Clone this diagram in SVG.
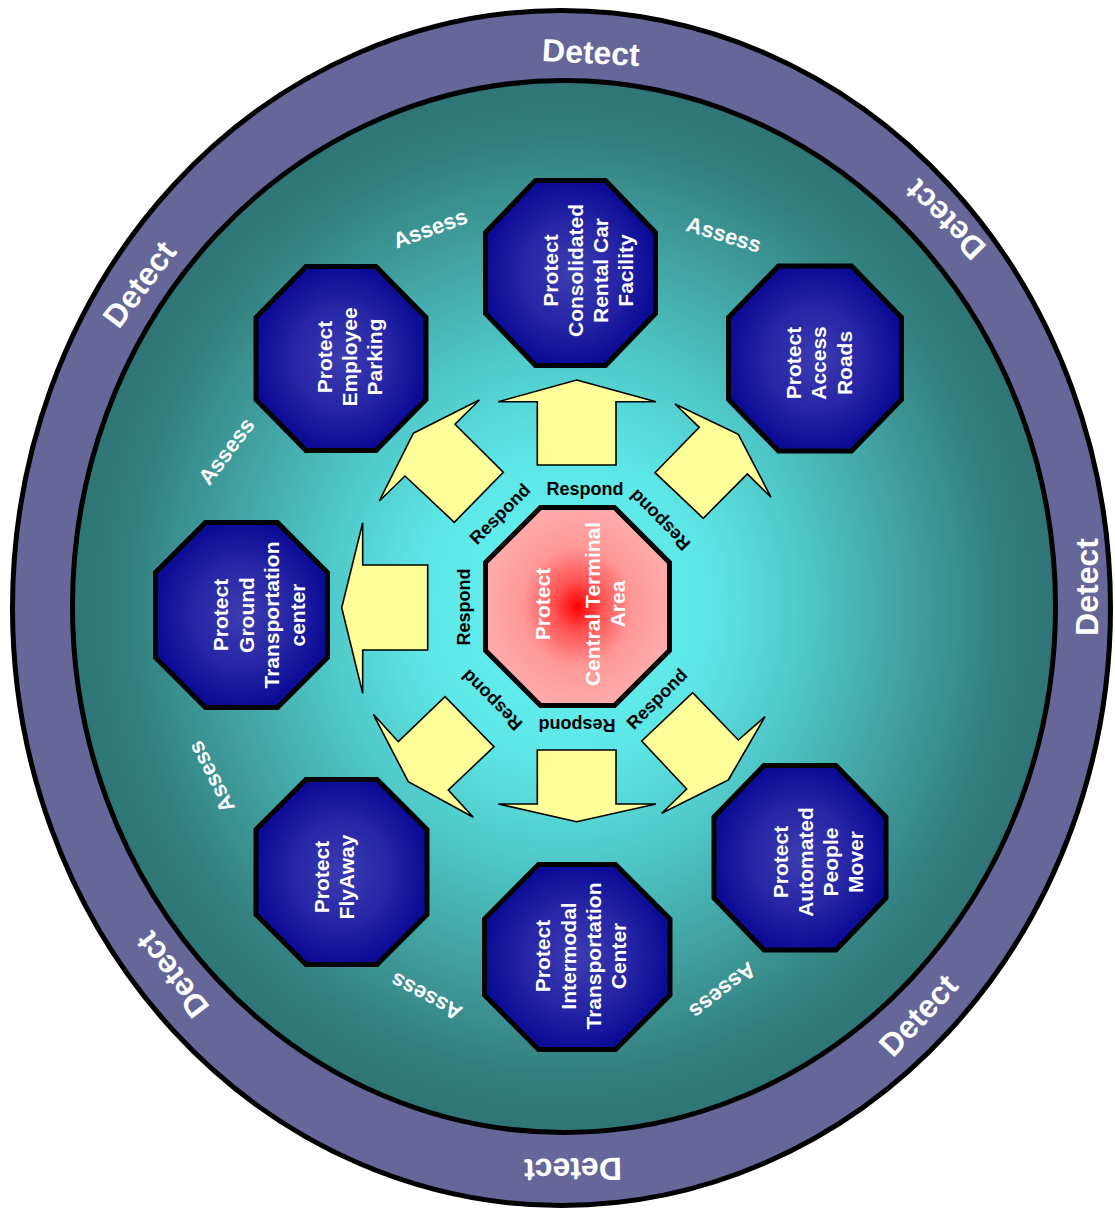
<svg xmlns="http://www.w3.org/2000/svg" width="1115" height="1214" viewBox="0 0 1115 1214">
<defs>
<radialGradient id="gInner" cx="50%" cy="50%" r="50%">
<stop offset="0" stop-color="#66f4f4"/>
<stop offset="0.3" stop-color="#5de6e6"/>
<stop offset="0.5" stop-color="#4fc6c6"/>
<stop offset="0.75" stop-color="#3e9898"/>
<stop offset="0.9" stop-color="#327d7d"/>
<stop offset="1" stop-color="#2f7575"/>
</radialGradient>
<radialGradient id="gBlue" cx="50%" cy="50%" r="50%">
<stop offset="0" stop-color="#3c3cb0"/>
<stop offset="0.55" stop-color="#2626a6"/>
<stop offset="1" stop-color="#0b0b96"/>
</radialGradient>
<radialGradient id="gRed" cx="50%" cy="50%" r="50%">
<stop offset="0" stop-color="#ff0000"/>
<stop offset="0.25" stop-color="#ff5050"/>
<stop offset="0.6" stop-color="#ff9898"/>
<stop offset="1" stop-color="#ffaaaa"/>
</radialGradient>
</defs>
<style>
.oct{fill:url(#gBlue);stroke:#000;stroke-width:5;stroke-linejoin:miter}
.ctr{fill:url(#gRed);stroke:#000;stroke-width:5}
.arr{fill:#ffff99;stroke:#000;stroke-width:1.6;stroke-linejoin:miter}
.nt{font-family:"Liberation Sans",Arial,sans-serif;font-weight:bold;font-size:21px;fill:#fff;text-anchor:middle}
.rs{font-family:"Liberation Sans",Arial,sans-serif;font-weight:bold;font-size:18px;fill:#000;text-anchor:middle}
.as{font-family:"Liberation Sans",Arial,sans-serif;font-weight:bold;font-size:22px;fill:#fff;text-anchor:middle}
.dt{font-family:"Liberation Sans",Arial,sans-serif;font-weight:bold;font-size:32px;fill:#fff;text-anchor:middle}
</style>
<rect width="1115" height="1214" fill="#fff"/>
<g id="rings">
<ellipse cx="561.5" cy="608" rx="549" ry="597.5" fill="#666699" stroke="#000" stroke-width="5"/>
<ellipse cx="564" cy="606.5" rx="491.5" ry="526" fill="url(#gInner)" stroke="#000" stroke-width="5"/>
</g>
<g id="detect-labels">
<text class="dt" transform="translate(591,52) rotate(3)" y="11.5">Detect</text>
<text class="dt" transform="translate(945,220) rotate(-135)" y="11.5">Detect</text>
<text class="dt" transform="translate(139,284) rotate(-53)" y="11.5">Detect</text>
<text class="dt" transform="translate(1086,587) rotate(-90)" y="11.5">Detect</text>
<text class="dt" transform="translate(172,975) rotate(-127)" y="11.5">Detect</text>
<text class="dt" transform="translate(573,1170) rotate(179)" y="11.5">Detect</text>
<text class="dt" transform="translate(918,1015) rotate(-47)" y="11.5">Detect</text>
</g>
<g id="assess-labels">
<text class="as" transform="translate(430,228) rotate(-20)" y="8">Assess</text>
<text class="as" transform="translate(724,234) rotate(17)" y="8">Assess</text>
<text class="as" transform="translate(226,451) rotate(-53)" y="8">Assess</text>
<text class="as" transform="translate(211,777) rotate(-117)" y="8">Assess</text>
<text class="as" transform="translate(426,997) rotate(208)" y="8">Assess</text>
<text class="as" transform="translate(723,991) rotate(142)" y="8">Assess</text>
</g>
<g id="connectors">
<polygon class="arr" points="576.7,380 656,401.7 616,401.7 616,465 537.3,465 537.3,401.7 498.3,401.7"/>
<polygon class="arr" points="576.7,821.7 498.3,804 537.3,804 537.3,750 616,750 616,804 656,804"/>
<polygon class="arr" points="341.7,607.7 362.7,522.7 362.7,565 427.7,565 427.7,650 362.7,650 362.7,693.3"/>
<polygon class="arr" points="413.3,433.3 479.3,400 455,424.3 503.3,472.3 454.3,522.3 405,476 379.3,501"/>
<polygon class="arr" points="738.3,434.3 771,497.3 747.3,474 703.3,518.3 655,472.7 699.3,427.3 675,404"/>
<polygon class="arr" points="408.3,781.7 373.3,714.3 398.3,741.7 445,696.7 494,746.7 448.3,790 473.3,817.3"/>
<polygon class="arr" points="728.3,780 765,716.7 738.3,740 692.7,692.7 641.7,741 686.7,789 661.7,813.3"/>
</g>
<g id="respond-labels">
<text class="rs" transform="translate(585,489)" y="6">Respond</text>
<text class="rs" transform="translate(500,514) rotate(-45)" y="6">Respond</text>
<text class="rs" transform="translate(464,607) rotate(-90)" y="6">Respond</text>
<text class="rs" transform="translate(492,700) rotate(-135)" y="6">Respond</text>
<text class="rs" transform="translate(577,725) rotate(180)" y="6">Respond</text>
<text class="rs" transform="translate(657,699) rotate(-45)" y="6">Respond</text>
<text class="rs" transform="translate(660,520) rotate(-135)" y="6">Respond</text>
</g>
<g id="node-central">
<polygon class="ctr" points="540.5,507.5 614.5,507.5 669.5,562.5 669.5,650.5 614.5,705.5 540.5,705.5 485.5,650.5 485.5,562.5"/>
<text class="nt" transform="translate(0,604) rotate(-90)"><tspan x="0" y="550">Protect</tspan><tspan x="0" y="600">Central Terminal</tspan><tspan x="0" y="625">Area</tspan></text>
</g>
<g id="node-rental-car">
<polygon class="oct" points="535.5,180.5 605.5,180.5 655.5,232.5 655.5,313.5 605.5,365.5 535.5,365.5 485.5,313.5 485.5,232.5"/>
<text class="nt" transform="translate(0,270.5) rotate(-90)"><tspan x="0" y="558">Protect</tspan><tspan x="0" y="583">Consolidated</tspan><tspan x="0" y="608">Rental Car</tspan><tspan x="0" y="633">Facility</tspan></text>
</g>
<g id="node-employee-parking">
<polygon class="oct" points="306,266.5 376,266.5 426,317.5 426,399.5 376,450.5 306,450.5 256,399.5 256,317.5"/>
<text class="nt" transform="translate(0,357) rotate(-90)"><tspan x="0" y="332">Protect</tspan><tspan x="0" y="357">Employee</tspan><tspan x="0" y="382">Parking</tspan></text>
</g>
<g id="node-access-roads">
<polygon class="oct" points="778.5,266 851.5,266 901.5,317.5 901.5,399.5 851.5,451 778.5,451 728.5,399.5 728.5,317.5"/>
<text class="nt" transform="translate(0,363) rotate(-90)"><tspan x="0" y="801">Protect</tspan><tspan x="0" y="826">Access</tspan><tspan x="0" y="852">Roads</tspan></text>
</g>
<g id="node-ground-transportation">
<polygon class="oct" points="205.5,522.5 277.5,522.5 327.5,572.5 327.5,657.5 277.5,707.5 205.5,707.5 155.5,657.5 155.5,572.5"/>
<text class="nt" transform="translate(0,615) rotate(-90)"><tspan x="0" y="228">Protect</tspan><tspan x="0" y="253.5">Ground</tspan><tspan x="0" y="279">Transportation</tspan><tspan x="0" y="304.5">center</tspan></text>
</g>
<g id="node-flyaway">
<polygon class="oct" points="306,779.5 377,779.5 427,829.5 427,914.5 377,964.5 306,964.5 256,914.5 256,829.5"/>
<text class="nt" transform="translate(0,877) rotate(-90)"><tspan x="0" y="329">Protect</tspan><tspan x="0" y="354">FlyAway</tspan></text>
</g>
<g id="node-intermodal">
<polygon class="oct" points="538.5,864.5 615.5,864.5 670,919 670,995 615.5,1049.5 538.5,1049.5 484.5,995 484.5,919"/>
<text class="nt" transform="translate(0,956) rotate(-90)"><tspan x="0" y="550">Protect</tspan><tspan x="0" y="575.5">Intermodal</tspan><tspan x="0" y="601">Transportation</tspan><tspan x="0" y="626">Center</tspan></text>
</g>
<g id="node-people-mover">
<polygon class="oct" points="764,765.5 836,765.5 886,817 886,898 836,950 764,950 714,898 714,817"/>
<text class="nt" transform="translate(0,862) rotate(-90)"><tspan x="0" y="788">Protect</tspan><tspan x="0" y="813">Automated</tspan><tspan x="0" y="838">People</tspan><tspan x="0" y="863">Mover</tspan></text>
</g>
</svg>
